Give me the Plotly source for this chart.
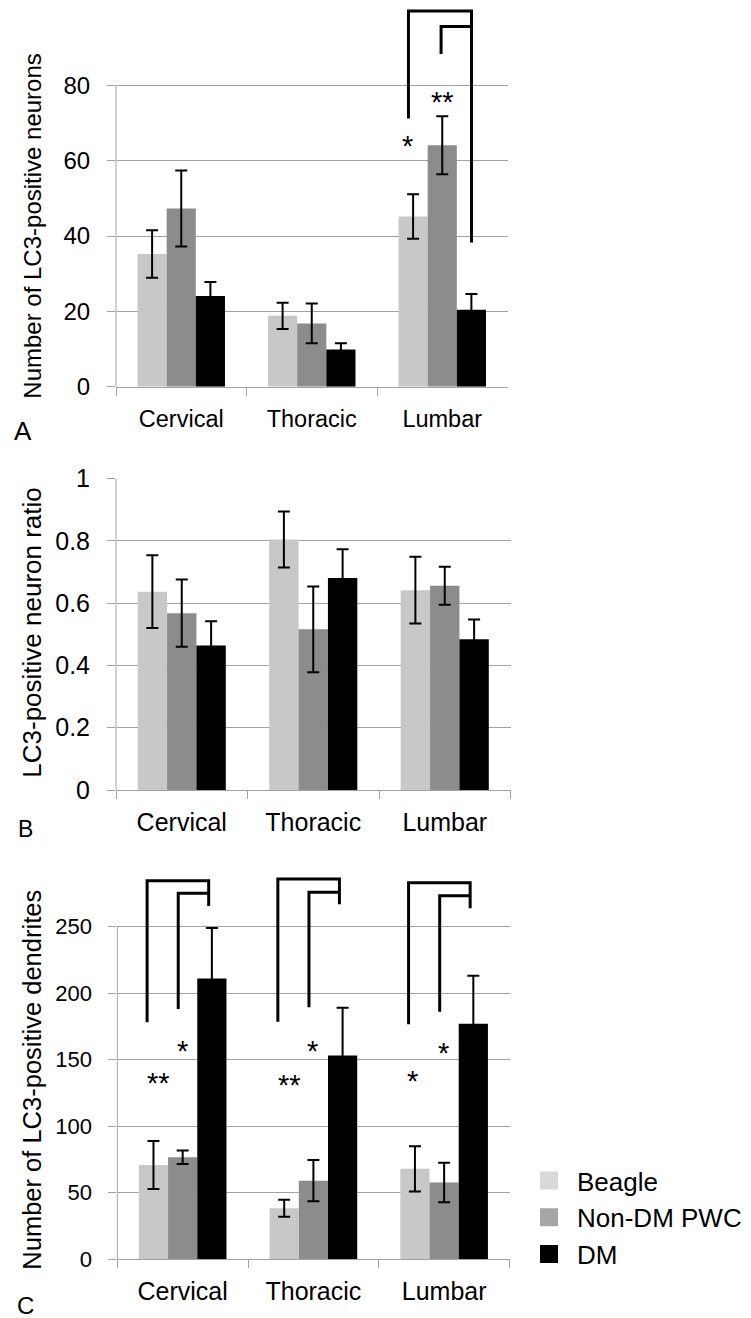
import plotly.graph_objects as go

# ---------------- data ----------------
regions = ["Cervical", "Thoracic", "Lumbar"]
groups = ["Beagle", "Non-DM PWC", "DM"]

# Panel A: number of LC3-positive neurons
A_beagle = [35.2, 18.8, 45.2]
A_nondm = [47.3, 16.8, 64.1]
A_dm = [24.1, 9.9, 20.4]
A_beagle_err = [6.3, 3.5, 5.9]
A_nondm_err = [10.1, 5.3, 7.7]
A_dm_err = [3.7, 1.6, 4.2]

# Panel B: LC3-positive neuron ratio
B_beagle = [0.637, 0.805, 0.642]
B_nondm = [0.568, 0.516, 0.656]
B_dm = [0.464, 0.681, 0.484]
B_beagle_err = [0.117, 0.090, 0.107]
B_nondm_err = [0.108, 0.138, 0.061]
B_dm_err = [0.078, 0.092, 0.064]

# Panel C: number of LC3-positive dendrites
C_beagle = [70.9, 38.3, 68.0]
C_nondm = [76.7, 59.1, 57.7]
C_dm = [211.1, 153.1, 177.0]
C_beagle_err = [18.0, 6.4, 17.0]
C_nondm_err = [5.0, 15.5, 14.8]
C_dm_err = [38.0, 36.0, 36.2]

# significance brackets (category index, outer-left bottom, outer top, right bottom, inner bottom, inner top)
A_br_cat = [2]
A_br_outer_bottom = [71.2]
A_br_outer_top = [99.7]
A_br_right_bottom = [38.3]
A_br_inner_bottom = [88.3]
A_br_inner_top = [95.6]
A_star_text = ["*", "**"]
A_star_cat = [2, 2]
A_star_y = [64.7, 76.4]

C_br_cat = [0, 1, 2]
C_br_outer_bottom = [178.1, 178.6, 176.6]
C_br_outer_top = [284.6, 285.8, 283.1]
C_br_right_bottom = [265.6, 266.8, 263.8]
C_br_inner_bottom = [188.1, 189.4, 186.1]
C_br_inner_top = [275.1, 275.9, 273.3]
C_star_text = ["**", "*", "**", "*", "*", "*"]
C_star_cat = [0, 0, 1, 1, 2, 2]
C_star_y = [135.0, 158.9, 133.7, 158.9, 136.3, 157.6]

# ---------------- styles ----------------
FONT = "Liberation Sans, Arial, sans-serif"
bar_colors = ["#c8c8c8", "#8c8c8c", "#000000"]
legend_colors = ["#d9d9d9", "#a6a6a6", "#000000"]
GRID = "#a3a3a3"

fig = go.Figure()

panels = [
    ("x", "y", [A_beagle, A_nondm, A_dm], [A_beagle_err, A_nondm_err, A_dm_err]),
    ("x2", "y2", [B_beagle, B_nondm, B_dm], [B_beagle_err, B_nondm_err, B_dm_err]),
    ("x3", "y3", [C_beagle, C_nondm, C_dm], [C_beagle_err, C_nondm_err, C_dm_err]),
]
for xa, ya, vals, errs in panels:
    for g, v, e, c in zip(groups, vals, errs, bar_colors):
        fig.add_trace(go.Bar(
            x=regions, y=v, name=g, xaxis=xa, yaxis=ya, offsetgroup=g,
            marker=dict(color=c, line=dict(width=0)), showlegend=False,
            error_y=dict(type="data", array=e, color="black", thickness=2, width=6),
        ))

# legend entries
for g, c in zip(groups, legend_colors):
    fig.add_trace(go.Scatter(
        x=[None], y=[None], mode="markers", name=g, xaxis="x3", yaxis="y3",
        marker=dict(symbol="square", size=16, color=c, line=dict(color=c, width=2)),
        showlegend=True,
    ))

W, H = 751, 1318
def py(px):
    return 1 - px / H

common_x = dict(
    type="category", categoryorder="array", categoryarray=regions,
    tickson="boundaries", ticks="outside", ticklen=8, tickcolor=GRID, tickwidth=1,
    showline=True, linecolor=GRID, linewidth=1, showgrid=False, zeroline=False,
    automargin=False,
)
common_y = dict(
    showgrid=True, gridcolor=GRID, gridwidth=1, zeroline=False,
    ticks="outside", ticklen=8, tickcolor=GRID, tickwidth=1,
    showline=False, ticklabelstandoff=12, automargin=False,
)

layout = dict(
    width=W, height=H, margin=dict(l=0, r=0, t=0, b=0, autoexpand=False),
    paper_bgcolor="white", plot_bgcolor="white",
    barmode="group", bargap=0.33, bargroupgap=0,
    font=dict(family=FONT, color="black"),
    showlegend=True,
    legend=dict(x=521 / W, y=py(1157), xanchor="left", yanchor="top",
                font=dict(size=26, family=FONT), bgcolor="rgba(0,0,0,0)",
                itemsizing="trace", itemwidth=46),
    xaxis=dict(common_x, domain=[116 / W, 507.5 / W], anchor="y", tickfont=dict(size=23.5),
               ticklabelstandoff=11),
    yaxis=dict(common_y, domain=[py(386.7), py(2)], range=[0, (386.7 - 2) / 3.7675],
               tickvals=[0, 20, 40, 60, 80], tickfont=dict(size=24), anchor="x"),
    xaxis2=dict(common_x, domain=[116 / W, 510.5 / W], anchor="y2", tickfont=dict(size=25),
                ticklabelstandoff=10),
    yaxis2=dict(common_y, domain=[py(790), py(478.7)], range=[0, 1],
                tickvals=[0, 0.2, 0.4, 0.6, 0.8, 1], ticktext=["0", "0.2", "0.4", "0.6", "0.8", "1"],
                tickfont=dict(size=25), anchor="x2"),
    xaxis3=dict(common_x, domain=[117.3 / W, 509.5 / W], anchor="y3", tickfont=dict(size=25),
                ticklabelstandoff=10),
    yaxis3=dict(common_y, domain=[py(1259.3), py(874)], range=[0, (1259.3 - 874) / 1.3304],
                tickvals=[0, 50, 100, 150, 200, 250], tickfont=dict(size=22), anchor="x3"),
)
fig.update_layout(**layout)

shapes = []
# y axis lines (stop at the top gridline)
for xr, yr, top in [("x domain", "y", 80), ("x2 domain", "y2", 1), ("x3 domain", "y3", 250)]:
    shapes.append(dict(type="line", xref=xr, yref=yr, x0=0, x1=0, y0=0, y1=top,
                       line=dict(color=GRID, width=1)))

def add_brackets(xr, yr, cats, ob, ot, rb, ib, it, off_outer, off_inner, off_right):
    for c, a, b, r, i0, i1 in zip(cats, ob, ot, rb, ib, it):
        xo, xi, xrgt = c + off_outer, c + off_inner, c + off_right
        shapes.append(dict(type="path", xref=xr, yref=yr,
                           path=f"M{xo},{a} V{b} H{xrgt} V{r}",
                           line=dict(color="black", width=3)))
        shapes.append(dict(type="path", xref=xr, yref=yr,
                           path=f"M{xi},{i0} V{i1} H{xrgt}",
                           line=dict(color="black", width=3)))

add_brackets("x", "y", A_br_cat, A_br_outer_bottom, A_br_outer_top, A_br_right_bottom,
             A_br_inner_bottom, A_br_inner_top, -0.259, -0.009, 0.224)
add_brackets("x3", "y3", C_br_cat, C_br_outer_bottom, C_br_outer_top, C_br_right_bottom,
             C_br_inner_bottom, C_br_inner_top, -0.272, -0.034, 0.199)

annotations = []
star_off_A = [-0.263, 0.0]
for t, c, y, o in zip(A_star_text, A_star_cat, A_star_y, star_off_A):
    annotations.append(dict(x=c + o, y=y, xref="x", yref="y", text=t, showarrow=False,
                            font=dict(size=29, family=FONT), yshift=-3.5))
star_off_C = [-0.185, -0.004, -0.185, -0.004, -0.245, -0.004]
for t, c, y, o in zip(C_star_text, C_star_cat, C_star_y, star_off_C):
    annotations.append(dict(x=c + o, y=y, xref="x3", yref="y3", text=t, showarrow=False,
                            font=dict(size=29, family=FONT), yshift=-3.5))

# y-axis titles
for txt, ypx, size in [("Number of LC3-positive neurons", 226, 24),
                       ("LC3-positive neuron ratio", 632, 26),
                       ("Number of LC3-positive dendrites", 1080, 25.5)]:
    annotations.append(dict(x=31.7 / W, y=py(ypx), xref="paper", yref="paper", text=txt,
                            textangle=-90, showarrow=False, font=dict(size=size, family=FONT),
                            xanchor="center", yanchor="middle"))
# panel letters
for txt, xpx, ypx, size in [("A", 22.5, 431, 26), ("B", 25, 829, 23), ("C", 25, 1305, 24)]:
    annotations.append(dict(x=xpx / W, y=py(ypx), xref="paper", yref="paper", text=txt,
                            showarrow=False, font=dict(size=size, family=FONT),
                            xanchor="center", yanchor="middle"))

fig.update_layout(shapes=shapes, annotations=annotations)
fig.write_html("out.html")
